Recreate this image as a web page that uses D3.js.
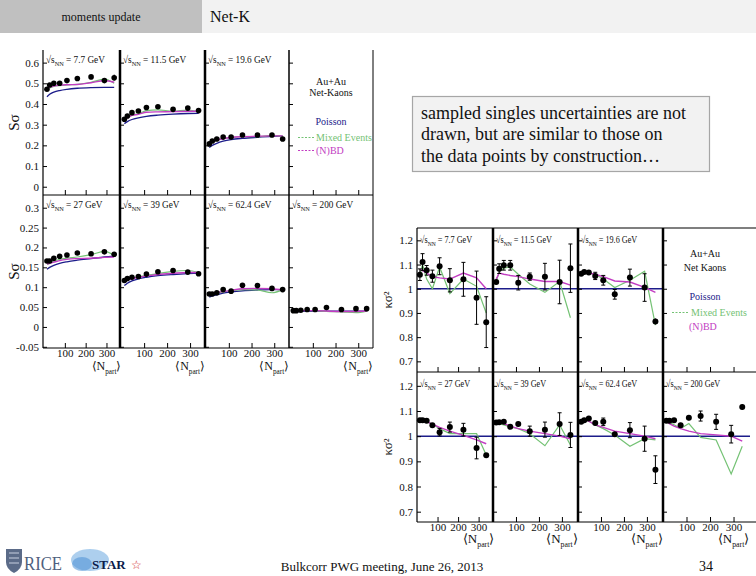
<!DOCTYPE html>
<html><head><meta charset="utf-8">
<script src="https://cdn.jsdelivr.net/npm/d3@7"></script>
<style>
body{margin:0;background:#fff}
svg{display:block}
text{font-family:"Liberation Serif","Times New Roman",serif;fill:#111}
</style>
</head><body>
<svg id="c" width="756" height="576"></svg>
<script>
// ---------- data ----------
const npart = [14, 27, 47, 75, 110, 160, 226, 290, 337];
const energyLabels = ["7.7", "11.5", "19.6", "27", "39", "62.4", "200"];
const xTickValues = [100, 200, 300];
const sTicksTop = [0, 0.1, 0.2, 0.3, 0.4, 0.5, 0.6];
const sTicksBottom = [-0.05, 0, 0.05, 0.1, 0.15, 0.2, 0.25, 0.3];
const kTicks = [0.7, 0.8, 0.9, 1.0, 1.1, 1.2];

// S*sigma (net-kaons)
const sSigmaData = [
  [0.471, 0.492, 0.500, 0.500, 0.513, 0.523, 0.531, 0.513, 0.527],
  [0.326, 0.342, 0.358, 0.366, 0.383, 0.387, 0.374, 0.380, 0.368],
  [0.207, 0.221, 0.231, 0.240, 0.240, 0.250, 0.250, 0.250, 0.231],
  [0.166, 0.166, 0.173, 0.178, 0.181, 0.186, 0.184, 0.189, 0.183],
  [0.117, 0.122, 0.125, 0.127, 0.133, 0.139, 0.142, 0.138, 0.134],
  [0.083, 0.083, 0.086, 0.094, 0.090, 0.105, 0.104, 0.097, 0.094],
  [0.041, 0.041, 0.042, 0.044, 0.044, 0.049, 0.044, 0.046, 0.046]
];
const sSigmaErr = [
  [0.008, 0.006, 0.005, 0.005, 0.005, 0.006, 0.008, 0.010, 0.015],
  [0.005, 0.005, 0.004, 0.004, 0.004, 0.005, 0.005, 0.006, 0.008],
  [0.004, 0.003, 0.003, 0.003, 0.003, 0.003, 0.004, 0.004, 0.005],
  [0.003, 0.002, 0.002, 0.002, 0.002, 0.003, 0.003, 0.004, 0.004],
  [0.002, 0.002, 0.002, 0.002, 0.002, 0.002, 0.002, 0.003, 0.003],
  [0.002, 0.002, 0.002, 0.002, 0.002, 0.002, 0.002, 0.002, 0.003],
  [0.001, 0.001, 0.001, 0.001, 0.001, 0.001, 0.001, 0.002, 0.002]
];
const sSigmaPoisson = [
  [0.435, 0.447, 0.457, 0.465, 0.471, 0.476, 0.479, 0.480, 0.480],
  [0.305, 0.315, 0.325, 0.333, 0.340, 0.346, 0.351, 0.354, 0.355],
  [0.190, 0.200, 0.210, 0.220, 0.228, 0.234, 0.239, 0.243, 0.245],
  [0.145, 0.150, 0.155, 0.160, 0.164, 0.168, 0.172, 0.176, 0.178],
  [0.104, 0.110, 0.116, 0.121, 0.125, 0.129, 0.132, 0.134, 0.135],
  [0.075, 0.078, 0.081, 0.085, 0.088, 0.091, 0.093, 0.094, 0.094],
  [0.037, 0.038, 0.039, 0.039, 0.040, 0.040, 0.040, 0.040, 0.040]
];
const sSigmaMixed = [
  [0.470, 0.478, 0.485, 0.489, 0.492, 0.495, 0.505, 0.520, 0.500],
  [0.322, 0.335, 0.348, 0.352, 0.368, 0.372, 0.365, 0.370, 0.362],
  [0.205, 0.215, 0.225, 0.233, 0.237, 0.243, 0.242, 0.248, 0.245],
  [0.158, 0.160, 0.165, 0.170, 0.173, 0.176, 0.182, 0.190, 0.180],
  [0.112, 0.117, 0.122, 0.126, 0.130, 0.134, 0.140, 0.142, 0.137],
  [0.080, 0.082, 0.085, 0.088, 0.091, 0.094, 0.093, 0.086, 0.094],
  [0.040, 0.040, 0.041, 0.041, 0.041, 0.039, 0.038, 0.036, 0.040]
];
const sSigmaNBD = [
  [0.475, 0.481, 0.487, 0.491, 0.493, 0.494, 0.503, 0.512, 0.505],
  [0.320, 0.332, 0.345, 0.350, 0.360, 0.362, 0.363, 0.365, 0.365],
  [0.205, 0.215, 0.225, 0.232, 0.238, 0.242, 0.244, 0.246, 0.246],
  [0.158, 0.160, 0.163, 0.167, 0.170, 0.172, 0.173, 0.175, 0.176],
  [0.112, 0.117, 0.121, 0.125, 0.128, 0.132, 0.135, 0.137, 0.137],
  [0.082, 0.084, 0.087, 0.089, 0.092, 0.096, 0.097, 0.096, 0.093],
  [0.040, 0.041, 0.041, 0.041, 0.041, 0.040, 0.039, 0.039, 0.040]
];

// kappa*sigma^2 (net-kaons)
const kSigma2Data = [
  [1.058, 1.110, 1.076, 1.052, 1.093, 1.035, 1.039, 0.963, 0.862],
  [1.028, 1.083, 1.097, 1.097, 1.025, 1.050, 1.050, 1.028, 1.085],
  [1.062, 1.069, 1.067, 1.053, 1.035, 0.977, 1.046, 1.005, 0.865],
  [1.063, 1.063, 1.061, 1.043, 1.016, 1.036, 1.026, 0.953, 0.924],
  [1.054, 1.055, 1.057, 1.037, 1.048, 1.020, 1.026, 1.048, 1.005],
  [1.057, 1.063, 1.070, 1.052, 1.057, 1.008, 1.024, 0.990, 0.867],
  [1.061, 1.061, 1.063, 1.043, 1.073, 1.080, 1.057, 1.008, 1.116]
];
const kSigma2Err = [
  [0.024, 0.035, 0.020, 0.025, 0.035, 0.048, 0.070, 0.110, 0.105],
  [0.010, 0.020, 0.020, 0.020, 0.030, 0.015, 0.055, 0.090, 0.100],
  [0.008, 0.008, 0.008, 0.015, 0.020, 0.020, 0.035, 0.057, 0.012],
  [0.004, 0.004, 0.004, 0.008, 0.015, 0.020, 0.025, 0.043, 0.005],
  [0.005, 0.005, 0.005, 0.008, 0.010, 0.020, 0.030, 0.045, 0.050],
  [0.005, 0.005, 0.005, 0.010, 0.015, 0.010, 0.030, 0.050, 0.055],
  [0.005, 0.005, 0.005, 0.010, 0.010, 0.020, 0.030, 0.035, 0.010]
];
const kSigma2Poisson = [1, 1, 1, 1, 1, 1, 1];
const kSigma2Mixed = [
  [1.060, 1.100, 1.040, 1.000, 1.090, 0.980, 1.040, 1.010, 0.900],
  [1.030, 1.070, 1.085, 1.090, 1.060, 1.020, 0.985, 1.030, 0.880],
  [1.067, 1.066, 1.065, 1.060, 1.040, 1.005, 1.035, 1.072, 0.850],
  [1.065, 1.062, 1.058, 1.048, 1.030, 1.010, 1.010, 1.010, 0.925],
  [1.050, 1.050, 1.045, 1.037, 1.030, 1.010, 0.962, 1.045, 0.965],
  [1.060, 1.060, 1.060, 1.045, 1.030, 1.005, 0.960, 0.990, 0.985],
  [1.060, 1.055, 1.045, 1.030, 1.050, 0.995, 0.985, 0.850, 0.960]
];
const kSigma2NBD = [
  [1.080, 1.075, 1.065, 1.050, 1.045, 1.040, 1.065, 1.045, 1.000],
  [1.040, 1.065, 1.060, 1.055, 1.050, 1.040, 1.030, 1.030, 1.015],
  [1.070, 1.070, 1.065, 1.060, 1.050, 1.032, 1.028, 1.006, 0.985],
  [1.065, 1.062, 1.058, 1.048, 1.035, 1.020, 1.003, 0.985, 0.970],
  [1.060, 1.055, 1.050, 1.040, 1.030, 1.020, 1.010, 1.000, 0.990],
  [1.065, 1.065, 1.060, 1.045, 1.035, 1.020, 1.010, 1.000, 0.990],
  [1.060, 1.050, 1.040, 1.030, 1.020, 1.010, 1.005, 1.000, 0.980]
];

// ---------- styles ----------
const C_POIS = "#1c1c8a", C_MIX = "#74c274", C_NBD = "#c23cc2";
const svg = d3.select("#c");
const fmt = v => String(+(+v).toFixed(2));

// ---------- slide chrome ----------
svg.append("rect").attr("x", 0).attr("y", 0).attr("width", 202).attr("height", 33).attr("fill", "#c0c0c0");
svg.append("rect").attr("x", 202).attr("y", 0).attr("width", 554).attr("height", 33).attr("fill", "#f2f2f2");
svg.append("text").attr("x", 101).attr("y", 21).attr("text-anchor", "middle").attr("font-size", 12).text("moments update");
svg.append("text").attr("x", 210).attr("y", 22).attr("font-size", 16).text("Net-K");

function sqrtLabel(g, x, y, e, fs, sx) {
  const t = g.append("text").attr("transform", `translate(${x},${y}) scale(${sx},1)`).attr("font-size", fs);
  t.append("tspan").text("√s");
  t.append("tspan").attr("font-size", fs * 0.68).attr("dy", fs * 0.28).text("NN");
  t.append("tspan").attr("dy", -fs * 0.28).text(" = " + e + " GeV");
}
function npartLabel(g, x, y, fs) {
  const t = g.append("text").attr("x", x).attr("y", y).attr("font-size", fs).attr("text-anchor", "middle");
  t.append("tspan").text("⟨N");
  t.append("tspan").attr("font-size", fs * 0.6).attr("dy", fs * 0.3).text("part");
  t.append("tspan").attr("dy", -fs * 0.3).text("⟩");
}

function drawFigure(cfg) {
  const g = svg.append("g");
  const E = cfg.colEdges, R = cfg.rows;
  energyLabels.forEach((e, i) => {
    const slot = i < 3 ? i : i + 1;
    const row = Math.floor(slot / 4), col = slot % 4;
    const rw = R[row];
    const x = d3.scaleLinear().domain(cfg.xDom).range([E[col], E[col + 1]]);
    const y = d3.scaleLinear().domain(rw.dom).range([rw.y1, rw.y0]);
    const pg = g.append("g");
    const line = d3.line().x((d, j) => x(npart[j])).y(d => y(d)).curve(cfg.curve);
    if (cfg.poissonFlat) {
      pg.append("line").attr("x1", x.range()[0]).attr("x2", x.range()[1])
        .attr("y1", y(cfg.poisson[i])).attr("y2", y(cfg.poisson[i]))
        .attr("stroke", C_POIS).attr("stroke-width", 1.5);
    } else {
      pg.append("path").attr("d", line(cfg.poisson[i])).attr("fill", "none").attr("stroke", C_POIS).attr("stroke-width", 1.3);
    }
    pg.append("path").attr("d", line(cfg.mixed[i])).attr("fill", "none").attr("stroke", C_MIX).attr("stroke-width", 1.2);
    pg.append("path").attr("d", line(cfg.nbd[i])).attr("fill", "none").attr("stroke", C_NBD).attr("stroke-width", 1.4);
    cfg.data[i].forEach((v, j) => {
      const ex = x(npart[j]), er = cfg.err[i][j];
      const ya = y(v + er), yb = y(v - er);
      pg.append("line").attr("x1", ex).attr("x2", ex).attr("y1", ya).attr("y2", yb).attr("stroke", "#000").attr("stroke-width", 1);
      if (yb - ya > 7) {
        [ya, yb].forEach(yy => pg.append("line").attr("x1", ex - 2).attr("x2", ex + 2).attr("y1", yy).attr("y2", yy).attr("stroke", "#000").attr("stroke-width", 1));
      }
      pg.append("circle").attr("cx", ex).attr("cy", y(v)).attr("r", cfg.r).attr("fill", "#000");
    });
    sqrtLabel(pg, E[col] + 3, rw.y0 + cfg.labelDy, e, cfg.labelFs, cfg.labelSx);
  });
  R.forEach((rw, row) => {
    const y = d3.scaleLinear().domain(rw.dom).range([rw.y1, rw.y0]);
    for (let col = 0; col < 4; col++) {
      const x = d3.scaleLinear().domain(cfg.xDom).range([E[col], E[col + 1]]);
      const ay = d3.axisLeft(y).tickValues(rw.ticks).tickSizeInner(-4).tickSizeOuter(0).tickPadding(4)
        .tickFormat(col === 0 ? fmt : "");
      const ga = g.append("g").attr("transform", `translate(${E[col]},0)`).call(ay);
      ga.select(".domain").remove();
      ga.selectAll("text").attr("font-size", cfg.tickFs).attr("font-family", "Liberation Serif, serif").attr("fill", "#111");
      const ax = d3.axisBottom(x).tickValues(xTickValues).tickSizeInner(-5).tickSizeOuter(0).tickPadding(1)
        .tickFormat(row === 1 ? d3.format("d") : "");
      const gx = g.append("g").attr("transform", `translate(0,${rw.y1})`).call(ax);
      gx.select(".domain").remove();
      gx.selectAll("text").attr("font-size", cfg.tickFs).attr("font-family", "Liberation Serif, serif").attr("fill", "#111");
      if (row === 1) npartLabel(g, x(cfg.npartAt), cfg.npartY, cfg.npartFs);
    }
    g.append("line").attr("x1", E[0]).attr("x2", cfg.hRight).attr("y1", rw.y1).attr("y2", rw.y1).attr("stroke", "#000").attr("stroke-width", 1);
    g.append("text").attr("transform", `translate(${cfg.yTitleX},${(rw.y0 + rw.y1) / 2}) rotate(-90)`)
      .attr("text-anchor", "middle").attr("font-size", cfg.yTitleFs).text(cfg.yTitle);
  });
  const top = R[0].y0, bot = R[1].y1;
  if (cfg.topLine) g.append("line").attr("x1", E[0]).attr("x2", cfg.hRight).attr("y1", top).attr("y2", top).attr("stroke", "#000").attr("stroke-width", 1.2);
  g.append("line").attr("x1", E[0]).attr("x2", E[0]).attr("y1", top).attr("y2", bot).attr("stroke", "#000").attr("stroke-width", 1.2);
  for (let c = 1; c < 4; c++) {
    g.append("line").attr("x1", E[c]).attr("x2", E[c]).attr("y1", top).attr("y2", bot).attr("stroke", "#000").attr("stroke-width", cfg.divW[c - 1]);
  }
  if (cfg.rightLine) g.append("line").attr("x1", E[4]).attr("x2", E[4]).attr("y1", top).attr("y2", bot).attr("stroke", "#000").attr("stroke-width", 1);
  const L = cfg.legend, lg = g.append("g").attr("font-size", L.fs);
  lg.append("text").attr("x", L.cx).attr("y", L.y[0]).attr("text-anchor", "middle").text("Au+Au");
  lg.append("text").attr("x", L.cx).attr("y", L.y[1]).attr("text-anchor", "middle").text(L.title);
  lg.append("text").attr("x", L.cx).attr("y", L.y[2]).attr("text-anchor", "middle").style("fill", C_POIS).text("Poisson");
  lg.append("line").attr("x1", L.dx0).attr("x2", L.dx1).attr("y1", L.y[3] - 3.5).attr("y2", L.y[3] - 3.5).attr("stroke", C_MIX).attr("stroke-dasharray", "2,1.5");
  lg.append("text").attr("x", L.tx).attr("y", L.y[3]).style("fill", C_MIX).text("Mixed Events");
  if (L.nbdDash) lg.append("line").attr("x1", L.dx0).attr("x2", L.dx1).attr("y1", L.y[4] - 3.5).attr("y2", L.y[4] - 3.5).attr("stroke", C_NBD).attr("stroke-dasharray", "2,1.5");
  lg.append("text").attr("x", L.nbdX).attr("y", L.y[4]).style("fill", C_NBD).text("(N)BD");
}

// Figure A: S sigma
drawFigure({
  colEdges: [43, 120, 205, 289, 373], hRight: 373,
  rows: [
    {y0: 50, y1: 195, dom: [-0.04, 0.661], ticks: sTicksTop},
    {y0: 195, y1: 348, dom: [-0.053, 0.332], ticks: sTicksBottom}
  ],
  xDom: [-5, 365], curve: d3.curveMonotoneX, r: 2.8,
  data: sSigmaData, err: sSigmaErr, poisson: sSigmaPoisson, mixed: sSigmaMixed, nbd: sSigmaNBD,
  poissonFlat: false, labelDy: 13, labelFs: 10.5, labelSx: 0.88, tickFs: 11,
  npartY: 370, npartFs: 12, npartAt: 300,
  yTitle: "Sσ", yTitleX: 19, yTitleFs: 15, topLine: false, rightLine: true, divW: [2.5, 2.5, 1.5],
  legend: {fs: 10, cx: 331, y: [85, 96, 125, 141, 154], dx0: 298, dx1: 314, tx: 316, nbdX: 316, title: "Net-Kaons", nbdDash: true}
});

// Figure B: kappa sigma^2
drawFigure({
  colEdges: [417, 493, 578, 663, 750], hRight: 756,
  rows: [
    {y0: 228, y1: 372, dom: [0.656, 1.251], ticks: kTicks},
    {y0: 372, y1: 522, dom: [0.659, 1.255], ticks: kTicks}
  ],
  xDom: [0, 370], curve: d3.curveLinear, r: 3,
  data: kSigma2Data, err: kSigma2Err, poisson: kSigma2Poisson, mixed: kSigma2Mixed, nbd: kSigma2NBD,
  poissonFlat: true, labelDy: 15, labelFs: 10.5, labelSx: 0.78, tickFs: 11,
  npartY: 543, npartFs: 13, npartAt: 300,
  yTitle: "κσ²", yTitleX: 392, yTitleFs: 13, topLine: true, rightLine: false, divW: [2.5, 2.5, 2.5],
  legend: {fs: 10, cx: 705, y: [257, 271, 300, 316, 330], dx0: 672, dx1: 688, tx: 691, nbdX: 689, title: "Net Kaons", nbdDash: false}
});

// Note box
const nb = svg.append("g");
nb.append("rect").attr("x", 412.5).attr("y", 96.5).attr("width", 297).attr("height", 75).attr("fill", "#f2f2f2").attr("stroke", "#a6a6a6").attr("stroke-width", 1.2);
["sampled singles uncertainties are not", "drawn, but are similar to those on", "the data points by construction…"].forEach((s, k) => {
  nb.append("text").attr("x", 421).attr("y", 119 + k * 21.3).attr("font-size", 18).text(s);
});

// Footer
const ft = svg.append("g");
ft.append("path").attr("d", "M6,549 L22,549 L22,562 Q22,569 14,573 Q6,569 6,562 Z").attr("fill", "#5b6b88");
ft.append("path").attr("d", "M9,553 L19,553 M9,558 L19,558 M9,563 L19,563").attr("stroke", "#c8d0e0").attr("stroke-width", 1.2);
ft.append("text").attr("x", 24).attr("y", 570).attr("font-size", 19).attr("textLength", 38).attr("lengthAdjust", "spacingAndGlyphs").style("fill", "#4f5f7e").text("RICE");
ft.append("ellipse").attr("cx", 90).attr("cy", 560).attr("rx", 19).attr("ry", 11).attr("fill", "#6aa8e0").attr("opacity", 0.55);
ft.append("ellipse").attr("cx", 82).attr("cy", 564).attr("rx", 10).attr("ry", 7).attr("fill", "#4a8fd6").attr("opacity", 0.55);
ft.append("text").attr("x", 92).attr("y", 569).attr("font-size", 13).attr("font-weight", "bold").attr("font-family", "Liberation Sans, Arial, sans-serif").style("fill", "#0a1a4a").text("STAR");
ft.append("text").attr("x", 131).attr("y", 569).attr("font-size", 12).attr("font-family", "DejaVu Sans, sans-serif").style("fill", "#d23030").text("☆");
ft.append("text").attr("x", 382).attr("y", 571).attr("text-anchor", "middle").attr("font-size", 13).text("Bulkcorr PWG meeting, June 26, 2013");
ft.append("text").attr("x", 706).attr("y", 571).attr("text-anchor", "middle").attr("font-size", 14).attr("font-family", "Liberation Sans, Arial, sans-serif").text("34");
</script>
</body></html>
